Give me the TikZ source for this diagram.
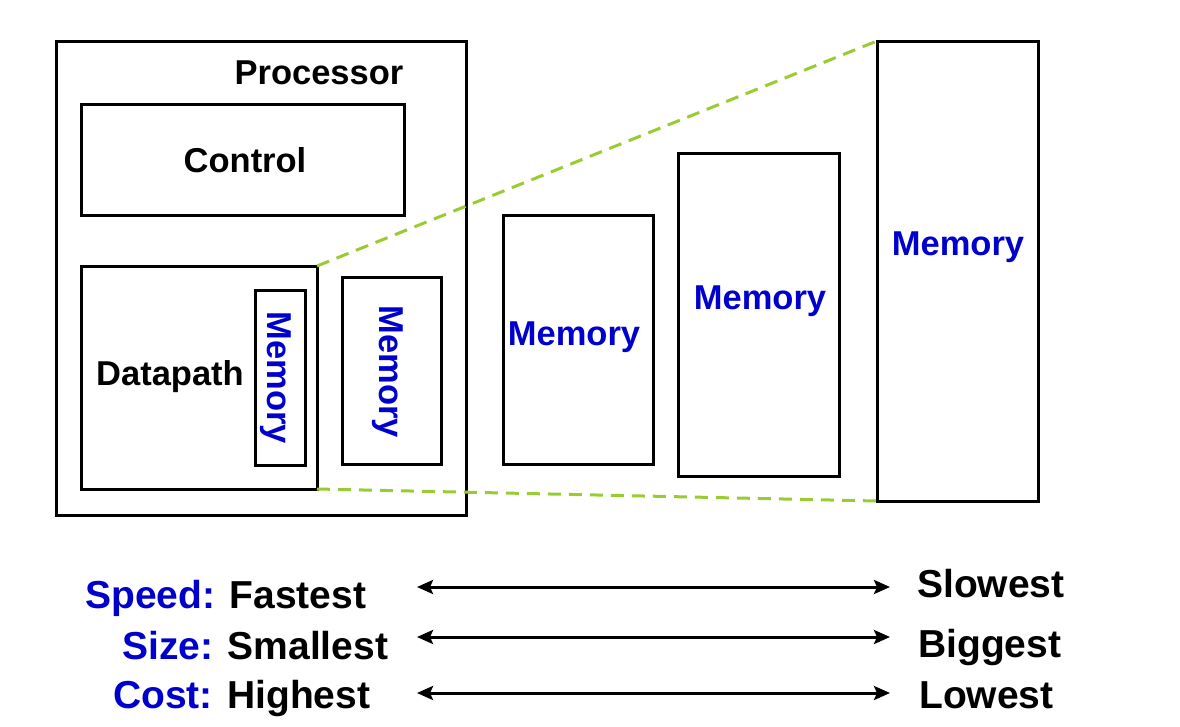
\documentclass[tikz,border=0pt]{standalone}
\usepackage{fontspec}
\setmainfont{Liberation Sans}
\usetikzlibrary{arrows.meta}
\definecolor{memblue}{HTML}{0000CC}
\definecolor{dashgreen}{HTML}{99CC33}
\begin{document}
\begin{tikzpicture}[x=1pt,y=-1pt,
  box/.style={draw=black,line width=3pt},
  lbl/.style={font=\fontsize{34.5}{40}\selectfont\bfseries,inner sep=0pt},
  memlbl/.style={lbl,text=memblue},
  big/.style={font=\fontsize{39}{44}\selectfont\bfseries,inner sep=0pt},
  zoomline/.style={draw=dashgreen,line width=3pt,dash pattern=on 13pt off 8pt},
  scalearrow/.style={draw=black,line width=3pt,>={Stealth[length=16pt,width=14pt,inset=3pt]},<->}]
\useasboundingbox (0,0) rectangle (1180,726);
% boxes
\draw[box] (56,41) rectangle (466,515);
\node[lbl] (proc) at (319,73) {Processor};
\draw[box] (81,104) rectangle (404,215);
\node[lbl] (ctrl) at (245,160) {Control};
\draw[box] (81,266) rectangle (317,489);
\coordinate (dpTR) at (317,266);
\coordinate (dpBR) at (317,489);
\node[lbl] (dp) at (170,377) {Datapath};
\draw[box] (255,290) rectangle (305,465);
\node[memlbl,rotate=-90] (m1) at (276,378) {Memory};
\draw[box] (342,277) rectangle (441,464);
\node[memlbl,rotate=-90] (m2) at (388,372) {Memory};
\draw[box] (503,215) rectangle (653,464);
\node[memlbl] (m3) at (574,337) {Memory};
\draw[box] (678,153) rectangle (839,476);
\node[memlbl] (m4) at (760,301) {Memory};
\draw[box] (877,41) rectangle (1038,501);
\coordinate (m5TL) at (877,41);
\coordinate (m5BL) at (877,501);
\node[memlbl] (m5) at (958,247) {Memory};
% dashed zoom lines
\draw[zoomline] (dpTR) -- (m5TL);
\draw[zoomline] (dpBR) -- (m5BL);
% bottom scale
\node[big,anchor=base west] (sp) at (85,608) {\textcolor{memblue}{Speed:} Fastest};
\node[big,anchor=base west] (sz) at (122,659) {\textcolor{memblue}{Size:} Smallest};
\node[big,anchor=base west] (co) at (113,708) {\textcolor{memblue}{Cost:} Highest};
\node[big,anchor=base west] (sl) at (917,597) {Slowest};
\node[big,anchor=base west] (bg) at (918,657) {Biggest};
\node[big,anchor=base west] (lo) at (919,708) {Lowest};
\coordinate (a1l) at (417,587); \coordinate (a1r) at (890,587);
\coordinate (a2l) at (417,637); \coordinate (a2r) at (890,637);
\coordinate (a3l) at (417,693); \coordinate (a3r) at (890,693);
\draw[scalearrow] (a1l) -- (a1r);
\draw[scalearrow] (a2l) -- (a2r);
\draw[scalearrow] (a3l) -- (a3r);
\end{tikzpicture}
\end{document}
